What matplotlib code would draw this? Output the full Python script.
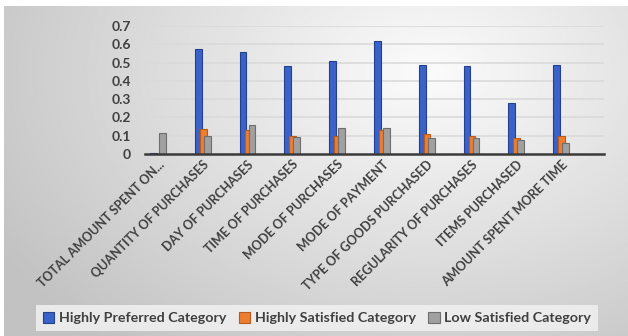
import numpy as np
import matplotlib
matplotlib.use("Agg")
import matplotlib.pyplot as plt
from matplotlib.patches import Patch

categories = ["TOTAL AMOUNT SPENT ON...", "QUANTITY OF PURCHASES", "DAY OF PURCHASES",
              "TIME OF PURCHASES", "MODE OF PURCHASES", "MODE OF PAYMENT",
              "TYPE OF GOODS PURCHASED", "REGULARITY OF PURCHASES", "ITEMS PURCHASED",
              "AMOUNT SPENT MORE TIME"]
highly_preferred = [0.005, 0.574, 0.557, 0.48, 0.51, 0.62, 0.485, 0.48, 0.28, 0.485]
highly_satisfied = [0.0, 0.135, 0.13, 0.10, 0.10, 0.13, 0.11, 0.10, 0.085, 0.10]
low_satisfied = [0.115, 0.10, 0.16, 0.095, 0.14, 0.14, 0.085, 0.085, 0.078, 0.062]
series_names = ["Highly Preferred Category", "Highly Satisfied Category", "Low Satisfied Category"]
yticks = [0, 0.1, 0.2, 0.3, 0.4, 0.5, 0.6, 0.7]

colors = ["#3A62C8", "#ED7D31", "#A0A0A0"]
edges = ["#24408F", "#B85A1C", "#6E6E6E"]
FONT = ["Lato", "DejaVu Sans"]
TXT = "#404040"

W, H = 628, 336
fig = plt.figure(figsize=(W / 100, H / 100), dpi=100)
fig.patch.set_facecolor("white")

# background gradient panel
bg = fig.add_axes([4 / W, 0, 1 - 4 / W, 1 - 6 / H])
bg.set_axis_off()
yy, xx = np.mgrid[0:1:200j, 0:1:400j]
d = np.sqrt(((xx - 0.68) / 0.75) ** 2 + ((yy - 0.2) / 1.0) ** 2)
v = np.clip(0.985 - 0.21 * d, 0.76, 0.99)
bg.imshow(v, cmap="gray", vmin=0, vmax=1, aspect="auto", extent=[0, 1, 0, 1], interpolation="bilinear")
bg.set_xlim(0, 1)
bg.set_ylim(0, 1)

ax = fig.add_axes([145 / W, 1 - 154 / H, (604 - 145) / W, (154 - 26) / H])
ax.set_facecolor("none")
x = np.arange(len(categories))
bw = 0.15
offs = [-0.1, 0.01, 0.1]
for i, vals in enumerate([highly_preferred, highly_satisfied, low_satisfied]):
    ax.bar(x + offs[i], vals, width=bw, color=colors[i], edgecolor=edges[i], linewidth=0.8,
           zorder=3 + i)

ax.set_ylim(0, 0.7)
ax.set_xlim(-0.29, 9.96)
ax.set_yticks(yticks)
ax.set_yticklabels(["0" if t == 0 else f"{t:.1f}" for t in yticks])
for t in yticks[1:]:
    ax.axhline(t, color="#DADADA", linewidth=1.2, zorder=1)
for s in ["top", "right", "left"]:
    ax.spines[s].set_visible(False)
ax.spines["bottom"].set_color("#3A3A3A")
ax.spines["bottom"].set_linewidth(1.8)
ax.spines["bottom"].set_zorder(6)
ax.tick_params(axis="both", length=0)
ax.tick_params(axis="y", pad=10)
ax.tick_params(axis="x", pad=3)
ax.set_xticks(x)
ax.set_xticklabels(categories, rotation=45, ha="right", rotation_mode="anchor")
for lab in ax.get_xticklabels():
    lab.set_family(FONT)
    lab.set_fontsize(9)
    lab.set_fontweight("bold")
    lab.set_color(TXT)
for lab in ax.get_yticklabels():
    lab.set_family(FONT)
    lab.set_fontsize(10)
    lab.set_fontweight("bold")
    lab.set_color(TXT)

handles = [Patch(facecolor=colors[i], edgecolor=edges[i], linewidth=0.8) for i in range(3)]
leg = fig.legend(handles, series_names, loc="center", bbox_to_anchor=(317 / W, 1 - 318 / H),
                 ncol=3, frameon=True, fancybox=False, handlelength=0.8, handleheight=0.8,
                 handletextpad=0.3, columnspacing=0.9, borderpad=0.45,
                 prop={"family": FONT, "size": 10.3, "weight": "bold"})
leg.get_frame().set_facecolor("#EFEFEF")
leg.get_frame().set_edgecolor("none")
leg.get_frame().set_alpha(0.9)
for t in leg.get_texts():
    t.set_color(TXT)

fig.savefig("out.png", dpi=100, facecolor=fig.get_facecolor())
